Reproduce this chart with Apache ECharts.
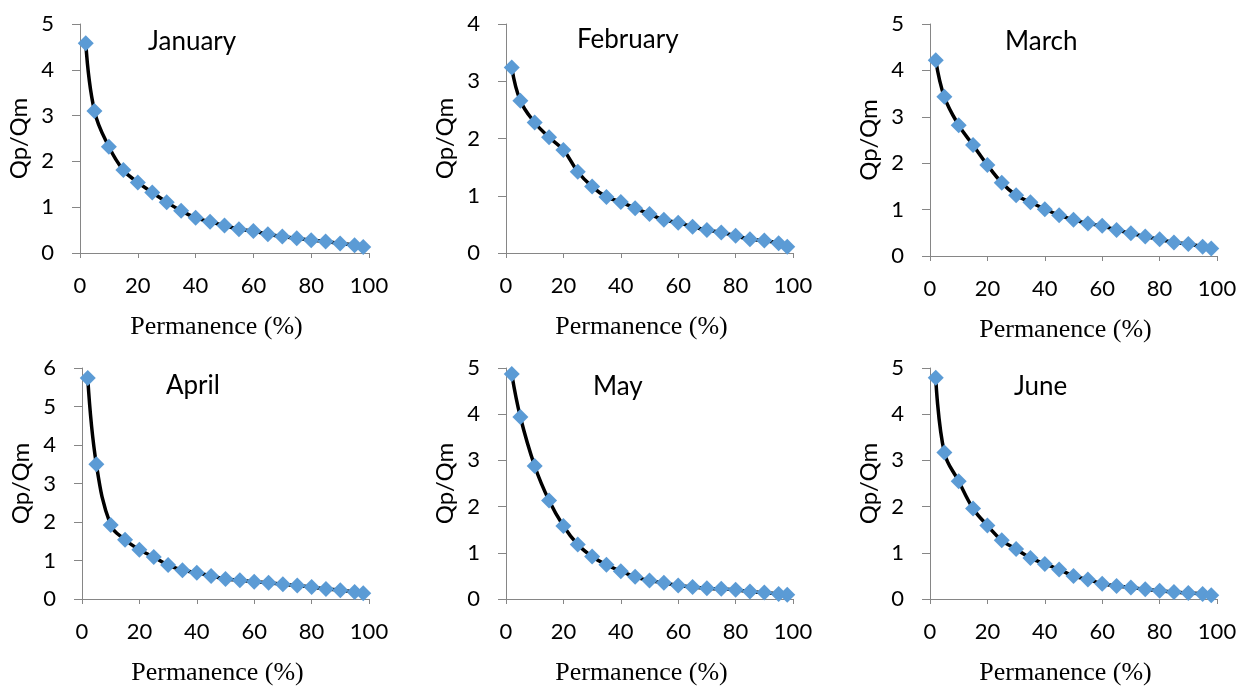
<!DOCTYPE html>
<html>
<head>
<meta charset="utf-8">
<title>Qp/Qm duration curves</title>
<script src="https://cdn.jsdelivr.net/npm/echarts@6/dist/echarts.min.js"></script>
<style>
    html, body { margin: 0; padding: 0; background: #fff; }
    #main { width: 1241px; height: 687px; }
</style>
</head>
<body>
<div id="main"></div>
<script>
// permanence (%) where the points were read
var permanence = [2, 5, 10, 15, 20, 25, 30, 35, 40, 45, 50, 55, 60, 65, 70, 75, 80, 85, 90, 95, 98];

var months = ['January', 'February', 'March', 'April', 'May', 'June'];

var january = [4.58, 3.10, 2.32, 1.81, 1.54, 1.32, 1.11, 0.92, 0.77, 0.68, 0.60, 0.52, 0.48, 0.41, 0.36, 0.32, 0.28, 0.25, 0.21, 0.17, 0.13];
var february = [3.24, 2.66, 2.28, 2.02, 1.80, 1.42, 1.16, 0.98, 0.89, 0.78, 0.68, 0.58, 0.53, 0.46, 0.40, 0.36, 0.30, 0.24, 0.22, 0.17, 0.11];
var march = [4.22, 3.43, 2.82, 2.39, 1.96, 1.58, 1.31, 1.16, 1.01, 0.88, 0.78, 0.70, 0.65, 0.56, 0.49, 0.42, 0.36, 0.29, 0.26, 0.20, 0.16];
var april = [5.74, 3.50, 1.92, 1.54, 1.28, 1.09, 0.88, 0.75, 0.68, 0.60, 0.52, 0.49, 0.45, 0.42, 0.38, 0.35, 0.31, 0.26, 0.23, 0.18, 0.15];
var may = [4.87, 3.94, 2.88, 2.13, 1.58, 1.18, 0.92, 0.74, 0.60, 0.48, 0.40, 0.35, 0.29, 0.26, 0.23, 0.22, 0.20, 0.16, 0.14, 0.11, 0.09];
var june = [4.79, 3.17, 2.55, 1.96, 1.59, 1.27, 1.08, 0.89, 0.76, 0.64, 0.50, 0.42, 0.33, 0.28, 0.25, 0.21, 0.18, 0.15, 0.13, 0.11, 0.08];

var monthValues = [january, february, march, april, may, june];
var yMaxes = [5, 4, 5, 6, 5, 5];

// panel boxes in pixels
var panels = [
    { left: 80, top: 24, width: 289, height: 229, titleLeft: 148, titleTop: 29 },
    { left: 506, top: 24, width: 287, height: 229, titleLeft: 577, titleTop: 27 },
    { left: 930, top: 24, width: 287, height: 232, titleLeft: 1005, titleTop: 29 },
    { left: 82, top: 368, width: 287, height: 235, titleLeft: 166, titleTop: 373 },
    { left: 506, top: 368, width: 287, height: 235, titleLeft: 593, titleTop: 374 },
    { left: 930, top: 368, width: 287, height: 238, titleLeft: 1014, titleTop: 374 }
];

var axisColor = '#868686';
var labelFont = 'Lato, "Noto Sans", sans-serif';

function pairs(xs, ys) {
    var out = [];
    for (var i = 0; i < xs.length; i++) {
        out.push([xs[i], ys[i]]);
    }
    return out;
}

var grids = [], xAxes = [], yAxes = [], titles = [], series = [];

for (var i = 0; i < panels.length; i++) {
    var p = panels[i];
    grids.push({ left: p.left, top: p.top, width: p.width, height: p.height });
    titles.push({
        text: months[i],
        left: p.titleLeft,
        top: p.titleTop,
        padding: 0,
        textStyle: { fontFamily: labelFont, fontSize: 26, fontWeight: 'normal', color: '#000' }
    });
    xAxes.push({
        gridIndex: i,
        type: 'value',
        min: 0,
        max: 100,
        interval: 20,
        name: 'Permanence (%)',
        nameLocation: 'middle',
        nameGap: 61,
        // name sits a little left of the axis centre in the original
        nameTextStyle: { fontFamily: '"Liberation Serif", serif', fontSize: 26, color: '#000', padding: [0, 16, 0, 0] },
        axisLine: { lineStyle: { color: axisColor, width: 1 } },
        axisTick: { show: true, length: 5, lineStyle: { color: axisColor } },
        axisLabel: { margin: 22, fontFamily: labelFont, fontSize: 22, color: '#000' },
        splitLine: { show: false }
    });
    yAxes.push({
        gridIndex: i,
        type: 'value',
        min: 0,
        max: yMaxes[i],
        interval: 1,
        name: 'Qp/Qm',
        nameLocation: 'middle',
        nameGap: 49,
        nameTextStyle: { fontFamily: labelFont, fontSize: 24, color: '#000' },
        axisLine: { show: true, lineStyle: { color: axisColor, width: 1 } },
        axisTick: { show: true, length: 8, lineStyle: { color: axisColor } },
        axisLabel: { margin: 26, fontFamily: labelFont, fontSize: 22, color: '#000' },
        splitLine: { show: false }
    });
    series.push({
        name: months[i],
        type: 'line',
        xAxisIndex: i,
        yAxisIndex: i,
        data: pairs(permanence, monthValues[i]),
        smooth: 0.4,
        symbol: 'diamond',
        symbolSize: 16,
        itemStyle: { color: '#5B9BD5', borderWidth: 0 },
        lineStyle: { color: '#000', width: 3.5 },
        animation: false
    });
}

option = {
    backgroundColor: '#fff',
    title: titles,
    grid: grids,
    xAxis: xAxes,
    yAxis: yAxes,
    series: series
};

var myChart = echarts.init(document.getElementById('main'));
myChart.setOption(option);
</script>
</body>
</html>
